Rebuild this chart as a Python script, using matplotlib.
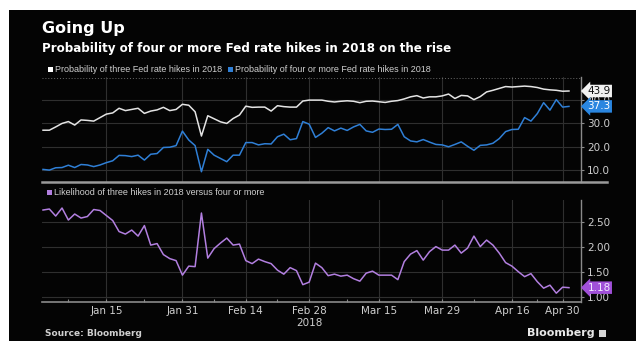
import matplotlib
matplotlib.use('Agg')
import matplotlib.pyplot as plt
from matplotlib.patches import Rectangle
from matplotlib.lines import Line2D

# ---------------- data ----------------
three_hikes = [27.1,27.1,28.5,30.0,30.8,29.3,31.5,31.3,31.0,32.5,
               34.0,34.5,36.5,35.5,36.0,36.5,34.3,35.3,35.8,36.9,
               35.5,36.0,38.2,37.8,35.0,24.6,33.3,32.0,30.7,30.0,
               32.1,33.6,37.4,36.9,37.0,37.0,35.3,37.6,37.2,37.0,
               37.0,39.6,40.0,40.0,40.0,39.5,39.2,39.5,39.7,39.5,
               38.9,39.5,39.6,39.3,39.0,39.5,39.8,40.5,41.4,41.9,
               40.9,41.4,41.4,41.8,42.6,40.7,42.0,41.8,40.2,41.5,
               43.5,44.2,45.0,45.8,45.6,45.8,46.0,45.8,45.4,44.7,
               44.4,44.2,43.8,43.9]
four_plus = [10.3,10.0,11.0,11.1,12.1,11.1,12.4,12.2,11.5,12.2,
             13.2,14.0,16.3,16.2,15.8,16.4,14.3,16.8,17.1,19.7,
             19.8,20.5,26.7,22.9,20.5,9.3,18.9,16.4,15.0,13.6,
             16.4,16.4,21.8,21.8,20.8,21.3,21.2,24.3,25.4,23.0,
             23.5,30.8,29.7,24.0,25.8,28.2,26.8,28.0,27.0,28.5,
             29.6,26.8,26.2,27.6,27.4,27.5,29.6,24.3,22.5,22.1,
             23.1,22.0,21.0,20.8,20.0,21.0,22.1,20.2,18.5,20.6,
             20.8,21.5,23.5,26.5,27.4,27.5,32.5,31.0,34.2,38.9,
             35.7,40.2,37.0,37.3]
ratio = [2.73,2.75,2.61,2.77,2.53,2.65,2.57,2.60,2.74,2.72,
         2.62,2.52,2.30,2.25,2.33,2.21,2.42,2.03,2.06,1.84,
         1.76,1.72,1.43,1.61,1.60,2.67,1.77,1.96,2.07,2.17,
         2.03,2.05,1.72,1.66,1.75,1.70,1.66,1.53,1.45,1.58,
         1.52,1.24,1.29,1.67,1.58,1.42,1.45,1.41,1.43,1.36,
         1.31,1.47,1.51,1.43,1.43,1.43,1.34,1.70,1.85,1.92,
         1.73,1.90,2.00,1.93,1.93,2.03,1.87,1.97,2.21,2.00,
         2.13,2.03,1.87,1.68,1.61,1.50,1.40,1.46,1.30,1.17,
         1.23,1.07,1.19,1.18]
x_tick_pos = [10, 22, 32, 42, 53, 63, 74, 82]
x_tick_labels = ['Jan 15', 'Jan 31', 'Feb 14', 'Feb 28\n2018', 'Mar 15', 'Mar 29', 'Apr 16', 'Apr 30']
x_minor_pos = [4, 16, 27, 37, 48, 58, 68, 78]
top_yticks = [10, 20, 30, 40]
top_ylabels = ['10.0', '20.0', '30.0', '40.0']
bot_yticks = [1.0, 1.5, 2.0, 2.5]
bot_ylabels = ['1.00', '1.50', '2.00', '2.50']

title = 'Going Up'
subtitle = 'Probability of four or more Fed rate hikes in 2018 on the rise'
leg1 = 'Probability of three Fed rate hikes in 2018'
leg2 = 'Probability of four or more Fed rate hikes in 2018'
leg3 = 'Likelihood of three hikes in 2018 versus four or more'

WHITE = '#e4e4e4'
BLUE = '#2f7fd6'
PURPLE = '#b27fe0'
GRID = '#2f2f2f'
TXT = '#cfcfcf'

W, H = 636, 341
def fx(p): return p / W
def fy(p): return 1 - p / H

fig = plt.figure(figsize=(6.36, 3.41), dpi=100)
fig.patch.set_facecolor('white')
fig.patches.append(Rectangle((fx(9), 0), 1 - fx(9), fy(10), transform=fig.transFigure,
                             facecolor='#040404', edgecolor='none', zorder=-10))

xs = list(range(len(three_hikes)))
xlim = (-0.16, 84.9)

def style(ax, yt, yl, ylim):
    ax.set_facecolor('none')
    ax.set_xlim(*xlim)
    ax.set_ylim(*ylim)
    for s in ['top', 'left', 'bottom']:
        ax.spines[s].set_visible(False)
    ax.spines['right'].set_color('#8a8a8a')
    ax.spines['right'].set_linewidth(1.0)
    ax.yaxis.tick_right()
    ax.set_yticks(yt)
    ax.set_yticklabels(yl)
    ax.tick_params(axis='y', colors='#8a8a8a', labelcolor=TXT, labelsize=7.5,
                   length=2.5, width=0.8, pad=2)
    ax.set_xticks(x_tick_pos)
    ax.grid(True, color=GRID, lw=0.8)
    ax.set_axisbelow(True)

ax1 = fig.add_axes([fx(42), fy(182), (581 - 42) / W, (182 - 77) / H])
style(ax1, top_yticks, top_ylabels, (4.9, 49.9))
ax1.tick_params(axis='x', length=0, labelbottom=False)
ax1.plot(xs, three_hikes, color=WHITE, lw=1.1, zorder=3)
ax1.plot(xs, four_plus, color=BLUE, lw=1.1, zorder=3)
ax1.axhline(49.6, color='#6a6a6a', lw=0.7, ls=(0, (1, 2)))

ax2 = fig.add_axes([fx(42), fy(302), (581 - 42) / W, (302 - 200) / H])
style(ax2, bot_yticks, bot_ylabels, (0.894, 2.93))
ax2.set_xticklabels(x_tick_labels)
ax2.set_xticks(x_minor_pos, minor=True)
ax2.tick_params(axis='x', which='both', direction='in', colors='#8a8a8a',
                labelcolor=TXT, labelsize=7.5, length=2, width=0.8, pad=3)
ax2.spines['bottom'].set_visible(True)
ax2.spines['bottom'].set_color('#8a8a8a')
ax2.spines['bottom'].set_linewidth(1.2)
ax2.plot(xs, ratio, color=PURPLE, lw=1.1, zorder=3)

# thick separator under top panel
fig.add_artist(Line2D([fx(42), fx(607)], [fy(182), fy(182)], color='#9a9a9a', lw=1.8,
                      transform=fig.transFigure))

# end value tags
def tag(ax, val, txt, fc, tc):
    ax.text(1.012, val, txt, transform=ax.get_yaxis_transform(), ha='left', va='center',
            fontsize=7.5, color=tc, zorder=10, clip_on=False,
            bbox=dict(boxstyle='larrow,pad=0.12', fc=fc, ec='none'))
tag(ax1, three_hikes[-1], '%.1f' % three_hikes[-1], '#f2f2f2', '#111111')
tag(ax1, four_plus[-1], '%.1f' % four_plus[-1], '#2a86e0', '#ffffff')
tag(ax2, ratio[-1], '%.2f' % ratio[-1], '#a050d8', '#f0e6ff')

# titles
fig.text(fx(42), fy(33), title, fontsize=11.5, fontweight='bold', color='white', va='baseline')
fig.text(fx(42), fy(52), subtitle, fontsize=8.6, fontweight='bold', color='white', va='baseline')

# legends
SANS = ['Liberation Sans', 'DejaVu Sans']
def legend_item(xp, yp, color, text):
    fig.patches.append(Rectangle((fx(xp), fy(yp + 2.5)), 5 / W, 5 / H, transform=fig.transFigure,
                                 facecolor=color, edgecolor='none'))
    fig.text(fx(xp + 7), fy(yp), text, fontsize=6.5, color=TXT, va='center', family=SANS)
legend_item(48, 69, '#ffffff', leg1)
legend_item(228, 69, BLUE, leg2)
legend_item(47, 192, PURPLE, leg3)

# footer
fig.text(fx(45), fy(333.5), 'Source: Bloomberg', fontsize=6.5, fontweight='bold', color=TXT, va='center')
fig.text(fx(595), fy(332.5), 'Bloomberg', fontsize=8, fontweight='bold', color='#e8e8e8', va='center', ha='right')
fig.patches.append(Rectangle((fx(599), fy(337)), 7 / W, 7 / H, transform=fig.transFigure,
                             facecolor='#d8d8d8', edgecolor='none'))

fig.savefig('out.png', dpi=100, facecolor=fig.get_facecolor())
